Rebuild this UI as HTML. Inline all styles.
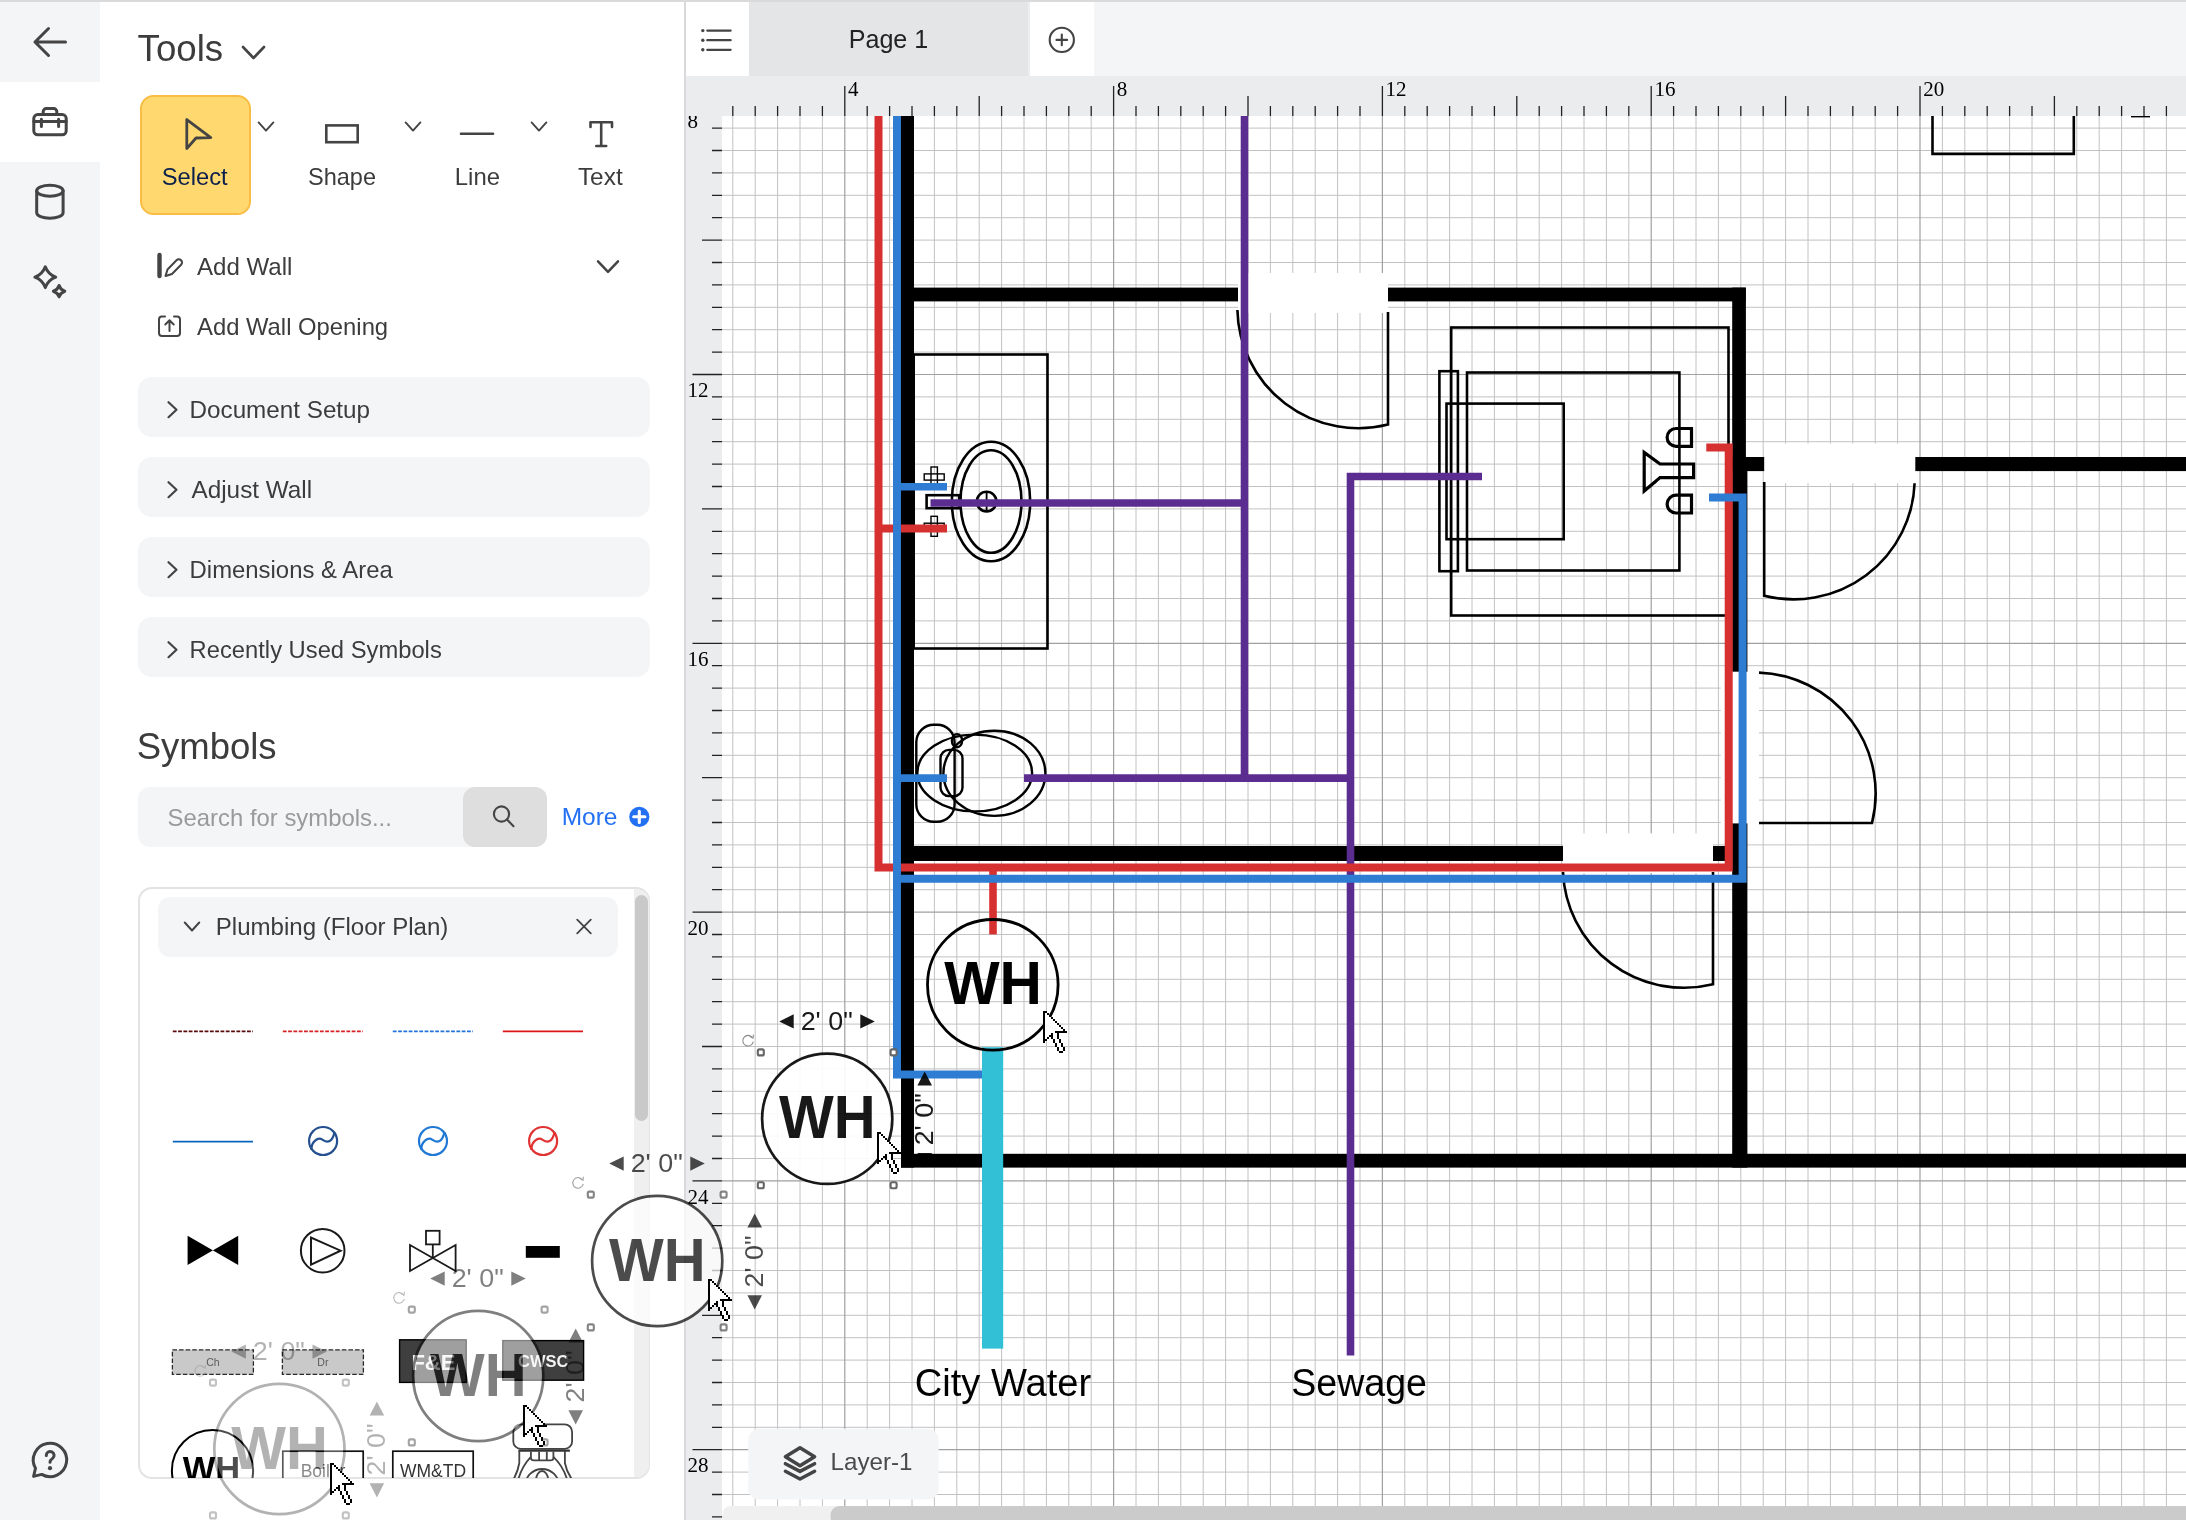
<!DOCTYPE html>
<html><head><meta charset="utf-8"><title>Floor Plan</title>
<style>
*{box-sizing:border-box;margin:0;padding:0}
html,body{width:2186px;height:1520px;overflow:hidden;background:#fff}
body{position:relative;font-family:"Liberation Sans",sans-serif;color:#3c3c3c}
.abs{position:absolute}
.t{position:absolute;white-space:nowrap;line-height:1}
.acc{position:absolute;left:138px;width:512px;height:60px;background:#f4f5f7;border-radius:14px}
svg{position:absolute;left:0;top:0;overflow:visible;will-change:transform}
</style></head>
<body>
<div class="abs" style="left:0;top:0;width:100px;height:1520px;background:#f4f5f7"></div>
<div class="abs" style="left:0;top:82px;width:100px;height:80px;background:#fff"></div>
<div class="abs" style="left:684px;top:0;width:1.8px;height:1520px;background:#d9d9db"></div>
<div class="acc" style="top:377px"></div>
<div class="acc" style="top:457px"></div>
<div class="acc" style="top:537px"></div>
<div class="acc" style="top:617px"></div>
<div class="abs" style="left:140px;top:95px;width:111px;height:120px;background:#ffd970;border:2px solid #f9bd45;border-radius:13.5px"></div>
<div class="abs" style="left:138px;top:787px;width:409px;height:60px;background:#f4f5f7;border-radius:12px"></div>
<div class="abs" style="left:463px;top:787px;width:84px;height:60px;background:#dedede;border-radius:12px"></div>
<div class="abs" style="left:138px;top:887px;width:512px;height:592px;background:#fff;border:2px solid #e3e3e3;border-radius:14px"></div>
<div class="abs" style="left:634px;top:889px;width:15px;height:588px;background:#efefef;border-radius:0 12px 12px 0"></div>
<div class="abs" style="left:635px;top:895px;width:13px;height:226px;background:#c9c9c9;border-radius:7px"></div>
<div class="abs" style="left:158px;top:897px;width:460px;height:60px;background:#f4f5f7;border-radius:12px"></div>
<svg width="2186" height="1520" viewBox="0 0 2186 1520">
<path d="M65.5,42 H35 M48.5,28.5 L35,42 L48.5,55.5" fill="none" stroke="#444" stroke-width="3" stroke-linecap="round" stroke-linejoin="round"/>
<rect x="33.8" y="114.6" width="32.4" height="20.2" rx="4" fill="none" stroke="#444" stroke-width="3" stroke-linecap="round" stroke-linejoin="round"/>
<path d="M43.2,114.6 v-3 a3,3 0 0 1 3,-3 h7.6 a3,3 0 0 1 3,3 v3" fill="none" stroke="#444" stroke-width="3" stroke-linecap="round" stroke-linejoin="round"/>
<path d="M33.8,121.5 H66.2 M41.4,119.3 v7.3 M58.6,119.3 v7.3" fill="none" stroke="#444" stroke-width="3" stroke-linecap="round" stroke-linejoin="round"/>
<ellipse cx="49.9" cy="190.7" rx="13.2" ry="5.5" fill="none" stroke="#444" stroke-width="3" stroke-linecap="round" stroke-linejoin="round"/>
<path d="M36.7,190.7 V212.8 a13.2,5.5 0 0 0 26.4,0 V190.7" fill="none" stroke="#444" stroke-width="3" stroke-linecap="round" stroke-linejoin="round"/>
<path d="M45.3,266.8 Q48.108,274.392 55.699,277.2 Q48.108,280.008 45.3,287.599 Q42.492,280.008 34.9,277.2 Q42.492,274.392 45.3,266.8 Z" fill="none" stroke="#444" stroke-width="3" stroke-linecap="round" stroke-linejoin="round"/>
<path d="M59.1,285.5 Q60.468,289.832 64.8,291.2 Q60.468,292.568 59.1,296.9 Q57.732,292.568 53.4,291.2 Q57.732,289.832 59.1,285.5 Z" fill="none" stroke="#444" stroke-width="3" stroke-linecap="round" stroke-linejoin="round"/>
<path d="M35.5,1468.25 A16.7,16.7 0 1 1 41.65,1474.4 L33.6,1476.4 Z" fill="none" stroke="#444" stroke-width="3" stroke-linecap="round" stroke-linejoin="round"/>
<path d="M46.3,1455.6 A3.9,3.9 0 1 1 52.6,1458.4 C50.8,1459.7 50,1460.6 50,1462.2" fill="none" stroke="#444" stroke-width="3" stroke-linecap="round" stroke-linejoin="round"/>
<circle cx="50" cy="1468.2" r="2.1" fill="#444"/>
<text transform="translate(137.57,61.4) scale(1.018,1)" font-family="Liberation Sans" font-size="36" font-weight="normal" fill="#3c3c3c" >Tools</text>
<path d="M243.0,47.0 L253.5,58.0 L264.0,47.0" fill="none" stroke="#444" stroke-width="2.6" stroke-linecap="round" stroke-linejoin="round"/>
<path d="M186.8,119.6 L186.8,148.6 L196,138 L210.8,137.6 Z" fill="none" stroke="#444" stroke-width="2.8" stroke-linejoin="round"/>
<text transform="translate(161.73,184.5) scale(1.032,1)" font-family="Liberation Sans" font-size="23" font-weight="normal" fill="#0b1f4b" >Select</text>
<path d="M258.6,122.45 L266,130.55 L273.4,122.45" fill="none" stroke="#444" stroke-width="1.9" stroke-linecap="round" stroke-linejoin="round"/>
<rect x="326.3" y="125.4" width="31.4" height="16.8" fill="none" stroke="#444" stroke-width="2.6"/>
<text transform="translate(307.94,184.6) scale(1.024,1)" font-family="Liberation Sans" font-size="23" font-weight="normal" fill="#3c3c3c" >Shape</text>
<path d="M405.6,122.45 L413,130.55 L420.4,122.45" fill="none" stroke="#444" stroke-width="1.9" stroke-linecap="round" stroke-linejoin="round"/>
<path d="M461,133.8 H493" stroke="#444" stroke-width="2.6" stroke-linecap="round"/>
<text transform="translate(454.79,184.6) scale(1.039,1)" font-family="Liberation Sans" font-size="23" font-weight="normal" fill="#3c3c3c" >Line</text>
<path d="M531.6,122.45 L539,130.55 L546.4,122.45" fill="none" stroke="#444" stroke-width="1.9" stroke-linecap="round" stroke-linejoin="round"/>
<path d="M590.5,127 V122.2 H612 V127 M601.2,122.2 V146 M596.3,146 H606.2" fill="none" stroke="#444" stroke-width="2.6" stroke-linecap="round" stroke-linejoin="round"/>
<text transform="translate(577.91,184.6) scale(1.062,1)" font-family="Liberation Sans" font-size="23" font-weight="normal" fill="#3c3c3c" >Text</text>
<path d="M159.5,255 V276" stroke="#444" stroke-width="4.4" stroke-linecap="round"/>
<path d="M165.5,276 L167.5,269.5 L176.5,260.3 a3.2,3.2 0 0 1 4.6,4.5 L172,274 Z" fill="none" stroke="#444" stroke-width="2" stroke-linejoin="round"/>
<text transform="translate(197.00,274.6) scale(1.004,1)" font-family="Liberation Sans" font-size="24" font-weight="normal" fill="#3c3c3c" >Add Wall</text>
<path d="M598.0,261.45 L608,271.95 L618.0,261.45" fill="none" stroke="#444" stroke-width="2.5" stroke-linecap="round" stroke-linejoin="round"/>
<path d="M165,316.5 H162 a3,3 0 0 0 -3,3 V333 a3,3 0 0 0 3,3 H177 a3,3 0 0 0 3,-3 V319.5 a3,3 0 0 0 -3,-3 H174" fill="none" stroke="#444" stroke-width="2" stroke-linecap="round"/>
<path d="M169.5,331 V320.5 M165.3,324.5 L169.5,320.3 L173.7,324.5" fill="none" stroke="#444" stroke-width="2" stroke-linecap="round" stroke-linejoin="round"/>
<text transform="translate(197.00,334.6) scale(0.993,1)" font-family="Liberation Sans" font-size="24" font-weight="normal" fill="#3c3c3c" >Add Wall Opening</text>
<path d="M168.5,402.2 L176.5,409.7 L168.5,417.2" fill="none" stroke="#444" stroke-width="2.2" stroke-linecap="round" stroke-linejoin="round"/>
<text transform="translate(189.56,417.6) scale(1.010,1)" font-family="Liberation Sans" font-size="24" font-weight="normal" fill="#3c3c3c" >Document Setup</text>
<path d="M168.5,482.2 L176.5,489.7 L168.5,497.2" fill="none" stroke="#444" stroke-width="2.2" stroke-linecap="round" stroke-linejoin="round"/>
<text transform="translate(191.50,497.6) scale(1.013,1)" font-family="Liberation Sans" font-size="24" font-weight="normal" fill="#3c3c3c" >Adjust Wall</text>
<path d="M168.5,562.2 L176.5,569.7 L168.5,577.2" fill="none" stroke="#444" stroke-width="2.2" stroke-linecap="round" stroke-linejoin="round"/>
<text transform="translate(189.59,577.6) scale(0.996,1)" font-family="Liberation Sans" font-size="24" font-weight="normal" fill="#3c3c3c" >Dimensions &amp; Area</text>
<path d="M168.5,642.2 L176.5,649.7 L168.5,657.2" fill="none" stroke="#444" stroke-width="2.2" stroke-linecap="round" stroke-linejoin="round"/>
<text transform="translate(189.60,657.6) scale(0.990,1)" font-family="Liberation Sans" font-size="24" font-weight="normal" fill="#3c3c3c" >Recently Used Symbols</text>
<text transform="translate(136.66,759.2) scale(1.014,1)" font-family="Liberation Sans" font-size="36" font-weight="normal" fill="#3c3c3c" >Symbols</text>
<text transform="translate(167.62,826.4) scale(0.995,1)" font-family="Liberation Sans" font-size="24" font-weight="normal" fill="#9a9a9a" >Search for symbols...</text>
<circle cx="501.5" cy="814" r="7.6" fill="none" stroke="#444" stroke-width="2.1"/>
<path d="M507,819.6 L513.5,826.2" stroke="#444" stroke-width="2.1" stroke-linecap="round"/>
<text transform="translate(561.64,824.9) scale(1.020,1)" font-family="Liberation Sans" font-size="24" font-weight="normal" fill="#2370f2" >More</text>
<circle cx="639.3" cy="816.8" r="10.1" fill="#2370f2"/>
<path d="M633.7,816.8 H644.9 M639.3,811.2 V822.4" stroke="#fff" stroke-width="3.1" stroke-linecap="round"/>
<path d="M184.75,922.5 L192,930.5 L199.25,922.5" fill="none" stroke="#444" stroke-width="2" stroke-linecap="round" stroke-linejoin="round"/>
<text transform="translate(215.77,935.4) scale(1.003,1)" font-family="Liberation Sans" font-size="24" font-weight="normal" fill="#3c3c3c" >Plumbing (Floor Plan)</text>
<path d="M577.2,919.7 L590.8,933.3 M590.8,919.7 L577.2,933.3" stroke="#444" stroke-width="1.8" stroke-linecap="round"/>
</svg>
<div class="abs" style="left:686px;top:0;width:1500px;height:76px;background:#f4f5f7"></div>
<div class="abs" style="left:686px;top:2px;width:62.5px;height:74px;background:#fff"></div>
<div class="abs" style="left:748.5px;top:2px;width:279.5px;height:74px;background:#e4e5e7"></div>
<div class="abs" style="left:1028px;top:2px;width:1.8px;height:74px;background:#ecedef"></div>
<div class="abs" style="left:1029.8px;top:2px;width:64.4px;height:74px;background:#fff"></div>
<div class="abs" style="left:686px;top:76px;width:1500px;height:40px;background:#ebecee"></div>
<div class="abs" style="left:686px;top:76px;width:36px;height:1444px;background:#ebecee"></div>
<div class="abs" style="left:0;top:0;width:2186px;height:2px;background:#dadada"></div>
<svg width="2186" height="1520" viewBox="0 0 2186 1520">
<defs><clipPath id="cv"><rect x="722" y="116" width="1464" height="1404"/></clipPath><clipPath id="lr"><rect x="686" y="116" width="36" height="1404"/></clipPath></defs>
<path d="M707.3,30.6 H730.6" stroke="#444" stroke-width="2.3" stroke-linecap="round" fill="none"/>
<circle cx="702.8" cy="30.6" r="1.7" fill="#444"/>
<path d="M707.3,40.2 H730.6" stroke="#444" stroke-width="2.3" stroke-linecap="round" fill="none"/>
<circle cx="702.8" cy="40.2" r="1.7" fill="#444"/>
<path d="M707.3,49.8 H730.6" stroke="#444" stroke-width="2.3" stroke-linecap="round" fill="none"/>
<circle cx="702.8" cy="49.8" r="1.7" fill="#444"/>
<text transform="translate(848.69,47.9) scale(0.981,1)" font-family="Liberation Sans" font-size="25.6" font-weight="normal" fill="#222" >Page 1</text>
<circle cx="1061.8" cy="39.9" r="12.1" stroke="#444" stroke-linecap="round" fill="none" stroke-width="2.1"/>
<path d="M1056.5,39.9 H1067.1 M1061.8,34.6 V45.2" stroke="#444" stroke-linecap="round" fill="none" stroke-width="2.1"/>
<g clip-path="url(#cv)">
<path d="M732.8,116 V1520 M755.2,116 V1520 M777.6,116 V1520 M800,116 V1520 M822.4,116 V1520 M867.2,116 V1520 M889.6,116 V1520 M912,116 V1520 M934.4,116 V1520 M956.8,116 V1520 M979.2,116 V1520 M1001.6,116 V1520 M1024,116 V1520 M1046.4,116 V1520 M1068.8,116 V1520 M1091.2,116 V1520 M1136,116 V1520 M1158.4,116 V1520 M1180.8,116 V1520 M1203.2,116 V1520 M1225.6,116 V1520 M1248,116 V1520 M1270.4,116 V1520 M1292.8,116 V1520 M1315.2,116 V1520 M1337.6,116 V1520 M1360,116 V1520 M1404.8,116 V1520 M1427.2,116 V1520 M1449.6,116 V1520 M1472,116 V1520 M1494.4,116 V1520 M1516.8,116 V1520 M1539.2,116 V1520 M1561.6,116 V1520 M1584,116 V1520 M1606.4,116 V1520 M1628.8,116 V1520 M1673.6,116 V1520 M1696,116 V1520 M1718.4,116 V1520 M1740.8,116 V1520 M1763.2,116 V1520 M1785.6,116 V1520 M1808,116 V1520 M1830.4,116 V1520 M1852.8,116 V1520 M1875.2,116 V1520 M1897.6,116 V1520 M1942.4,116 V1520 M1964.8,116 V1520 M1987.2,116 V1520 M2009.6,116 V1520 M2032,116 V1520 M2054.4,116 V1520 M2076.8,116 V1520 M2099.2,116 V1520 M2121.6,116 V1520 M2144,116 V1520 M2166.4,116 V1520 M722,128.1 H2186 M722,150.5 H2186 M722,172.9 H2186 M722,195.3 H2186 M722,217.7 H2186 M722,240.1 H2186 M722,262.5 H2186 M722,284.9 H2186 M722,307.3 H2186 M722,329.7 H2186 M722,352.1 H2186 M722,396.9 H2186 M722,419.3 H2186 M722,441.7 H2186 M722,464.1 H2186 M722,486.5 H2186 M722,508.9 H2186 M722,531.3 H2186 M722,553.7 H2186 M722,576.1 H2186 M722,598.5 H2186 M722,620.9 H2186 M722,665.7 H2186 M722,688.1 H2186 M722,710.5 H2186 M722,732.9 H2186 M722,755.3 H2186 M722,777.7 H2186 M722,800.1 H2186 M722,822.5 H2186 M722,844.9 H2186 M722,867.3 H2186 M722,889.7 H2186 M722,934.5 H2186 M722,956.9 H2186 M722,979.3 H2186 M722,1001.7 H2186 M722,1024.1 H2186 M722,1046.5 H2186 M722,1068.9 H2186 M722,1091.3 H2186 M722,1113.7 H2186 M722,1136.1 H2186 M722,1158.5 H2186 M722,1203.3 H2186 M722,1225.7 H2186 M722,1248.1 H2186 M722,1270.5 H2186 M722,1292.9 H2186 M722,1315.3 H2186 M722,1337.7 H2186 M722,1360.1 H2186 M722,1382.5 H2186 M722,1404.9 H2186 M722,1427.3 H2186 M722,1472.1 H2186 M722,1494.5 H2186 M722,1516.9 H2186" stroke="#c2c2c2" stroke-width="1" fill="none"/>
<path d="M844.8,116 V1520 M1113.6,116 V1520 M1382.4,116 V1520 M1651.2,116 V1520 M1920,116 V1520 M722,374.5 H2186 M722,643.3 H2186 M722,912.1 H2186 M722,1180.9 H2186 M722,1449.7 H2186" stroke="#a0a0a0" stroke-width="1.2" fill="none"/>
<rect x="901" y="100" width="13" height="1067.6" fill="#000"/>
<rect x="901" y="287.6" width="844.7" height="13.8" fill="#000"/>
<rect x="1732.2" y="287.6" width="13.7" height="183.4" fill="#000"/>
<rect x="1732.2" y="457" width="15.2" height="710.6" fill="#000"/>
<rect x="1745" y="457" width="441" height="14.1" fill="#000"/>
<rect x="901" y="846" width="831.2" height="15" fill="#000"/>
<rect x="901" y="1153.8" width="1285" height="13.8" fill="#000"/>
<rect x="1238" y="273" width="150" height="40" fill="#fff"/>
<rect x="1764.2" y="443.6" width="151.1" height="39.7" fill="#fff"/>
<rect x="1720.8" y="671.7" width="38.2" height="151.7" fill="#fff"/>
<rect x="1563" y="833.4" width="150" height="39.6" fill="#fff"/>
<path d="M1932.5,100 V153.9 H2073.8 V100" fill="none" stroke="#000" stroke-width="2.6" stroke-linejoin="miter"/>
<path d="M2131,116.6 H2150" stroke="#000" stroke-width="1.6"/>
<path d="M1388,312 V424.5 A121,121 0 0 1 1237.4,310" fill="none" stroke="#000" stroke-width="2.6" stroke-linejoin="miter"/>
<path d="M1764.2,482 V595.7 A121,121 0 0 0 1914.6,483.2" fill="none" stroke="#000" stroke-width="2.6" stroke-linejoin="miter"/>
<path d="M1759,823 H1872 A121,121 0 0 0 1759,672.6" fill="none" stroke="#000" stroke-width="2.6" stroke-linejoin="miter"/>
<path d="M1713,872 V984.2 A121,121 0 0 1 1563,872" fill="none" stroke="#000" stroke-width="2.6" stroke-linejoin="miter"/>
<rect x="913.7" y="354.5" width="133.8" height="294" fill="none" stroke="#000" stroke-width="2.6" stroke-linejoin="miter"/>
<ellipse cx="991" cy="501.5" rx="39.2" ry="59.8" fill="none" stroke="#000" stroke-width="2.6" stroke-linejoin="miter"/>
<ellipse cx="991" cy="501.5" rx="30.5" ry="51.3" fill="none" stroke="#000" stroke-width="2.6" stroke-linejoin="miter"/>
<circle cx="986.6" cy="501.6" r="9.8" fill="none" stroke="#000" stroke-width="2.6" stroke-linejoin="miter"/>
<path d="M986.6,491.5 V511.7" fill="none" stroke="#000" stroke-linejoin="miter" stroke-width="1.8"/>
<rect x="926.6" y="495.2" width="32.6" height="13" fill="none" stroke="#000" stroke-width="2.6" stroke-linejoin="miter"/>
<rect x="924.2" y="473.9" width="20" height="6.2" fill="#fff" stroke="#000" stroke-width="1.4"/>
<rect x="931" y="467" width="6.4" height="20" fill="none" stroke="#000" stroke-width="1.4"/>
<rect x="924.2" y="523.199" width="20" height="6.2" fill="#fff" stroke="#000" stroke-width="1.4"/>
<rect x="931" y="516.3" width="6.4" height="20" fill="none" stroke="#000" stroke-width="1.4"/>
<rect x="916.3" y="724.8" width="38.3" height="97" rx="17.5" fill="none" stroke="#000" stroke-width="2.4"/>
<ellipse cx="974.7" cy="773" rx="57.4" ry="38.4" fill="none" stroke="#000" stroke-width="2.4"/>
<ellipse cx="994.4" cy="773.3" rx="51" ry="42.6" fill="none" stroke="#000" stroke-width="2.4"/>
<rect x="940.5" y="749.9" width="22" height="46.2" rx="8.5" fill="none" stroke="#000" stroke-width="2.4"/>
<ellipse cx="957" cy="740.7" rx="5.1" ry="6.6" fill="none" stroke="#000" stroke-width="2.4"/>
<rect x="1451.2" y="327.5" width="277.3" height="288" fill="none" stroke="#000" stroke-width="2.6" stroke-linejoin="miter"/>
<rect x="1439.4" y="371.2" width="18.5" height="200" fill="none" stroke="#000" stroke-width="2.6" stroke-linejoin="miter"/>
<rect x="1467" y="372.5" width="212.4" height="198" fill="none" stroke="#000" stroke-width="2.6" stroke-linejoin="miter"/>
<rect x="1446.5" y="403.6" width="117.2" height="135.6" fill="none" stroke="#000" stroke-width="2.6" stroke-linejoin="miter"/>
<path d="M1691.5,428.5 H1676 a8.9,8.9 0 0 0 0,17.8 H1691.5 Z" fill="none" stroke="#000" stroke-width="3.2" stroke-linejoin="miter"/>
<path d="M1691.5,495.2 H1676 a8.9,8.9 0 0 0 0,17.8 H1691.5 Z" fill="none" stroke="#000" stroke-width="3.2" stroke-linejoin="miter"/>
<path d="M1644.2,452.5 V491 L1660,477.6 H1693.6 V464 H1660 Z" fill="none" stroke="#000" stroke-width="3.2" stroke-linejoin="miter"/>
<path d="M1244.5,100 V781.9" fill="none" stroke="#5b2d90" stroke-width="7.6" stroke-linejoin="miter"/>
<path d="M930.5,503 H1244.5" fill="none" stroke="#5b2d90" stroke-width="7.6" stroke-linejoin="miter"/>
<path d="M1024,778.1 H1350.5" fill="none" stroke="#5b2d90" stroke-width="7.6" stroke-linejoin="miter"/>
<path d="M1482,476.5 H1350.5 V1355.6" fill="none" stroke="#5b2d90" stroke-width="7.6" stroke-linejoin="miter"/>
<path d="M878.5,100 V867.5 H1728.7 V447.4 H1706.3" fill="none" stroke="#d63031" stroke-width="8" stroke-linejoin="miter"/>
<path d="M878.5,528.4 H947" fill="none" stroke="#d63031" stroke-width="8" stroke-linejoin="miter"/>
<path d="M993,867.5 V934.4" fill="none" stroke="#d63031" stroke-linejoin="miter" stroke-width="7.6"/>
<path d="M897,100 V1074.5 H983" fill="none" stroke="#2e7dd3" stroke-width="8" stroke-linejoin="miter"/>
<path d="M897,486.8 H947" fill="none" stroke="#2e7dd3" stroke-linejoin="miter" stroke-width="7.6"/>
<path d="M897,778.1 H947" fill="none" stroke="#2e7dd3" stroke-linejoin="miter" stroke-width="7.6"/>
<path d="M897,878.8 H1742.6 V497.6 H1709" fill="none" stroke="#2e7dd3" stroke-width="8" stroke-linejoin="miter"/>
<rect x="982" y="1047.2" width="21.2" height="301.4" fill="#31c0d6"/>
<circle cx="992.8" cy="984.8" r="65.3" fill="none" stroke="#000" stroke-width="2.8"/>
<text transform="translate(944.20,1004.4) scale(0.954,1)" font-family="Liberation Sans" font-size="61.5" font-weight="bold" fill="#000" >WH</text>
<text transform="translate(914.79,1395.9) scale(0.993,1)" font-family="Liberation Sans" font-size="38.4" font-weight="normal" fill="#000" >City Water</text>
<text transform="translate(1291.21,1395.9) scale(0.979,1)" font-family="Liberation Sans" font-size="38.4" font-weight="normal" fill="#000" >Sewage</text>
</g>
<text x="848" y="96" font-family="Liberation Serif" font-size="21" font-weight="normal" fill="#000" >4</text>
<text x="1116.8" y="96" font-family="Liberation Serif" font-size="21" font-weight="normal" fill="#000" >8</text>
<text x="1385.6" y="96" font-family="Liberation Serif" font-size="21" font-weight="normal" fill="#000" >12</text>
<text x="1654.4" y="96" font-family="Liberation Serif" font-size="21" font-weight="normal" fill="#000" >16</text>
<text x="1923.2" y="96" font-family="Liberation Serif" font-size="21" font-weight="normal" fill="#000" >20</text>
<g clip-path="url(#lr)">
<text x="687.6" y="128.3" font-family="Liberation Serif" font-size="21" font-weight="normal" fill="#000" >8</text>
<text x="687.6" y="397.1" font-family="Liberation Serif" font-size="21" font-weight="normal" fill="#000" >12</text>
<text x="687.6" y="665.9" font-family="Liberation Serif" font-size="21" font-weight="normal" fill="#000" >16</text>
<text x="687.6" y="934.7" font-family="Liberation Serif" font-size="21" font-weight="normal" fill="#000" >20</text>
<text x="687.6" y="1203.5" font-family="Liberation Serif" font-size="21" font-weight="normal" fill="#000" >24</text>
<text x="687.6" y="1472.3" font-family="Liberation Serif" font-size="21" font-weight="normal" fill="#000" >28</text>
</g>
<path d="M732.8,106 V116 M755.2,106 V116 M777.6,106 V116 M800,106 V116 M822.4,106 V116 M844.8,86 V116 M867.2,106 V116 M889.6,106 V116 M912,106 V116 M934.4,106 V116 M956.8,106 V116 M979.2,96 V116 M1001.6,106 V116 M1024,106 V116 M1046.4,106 V116 M1068.8,106 V116 M1091.2,106 V116 M1113.6,86 V116 M1136,106 V116 M1158.4,106 V116 M1180.8,106 V116 M1203.2,106 V116 M1225.6,106 V116 M1248,96 V116 M1270.4,106 V116 M1292.8,106 V116 M1315.2,106 V116 M1337.6,106 V116 M1360,106 V116 M1382.4,86 V116 M1404.8,106 V116 M1427.2,106 V116 M1449.6,106 V116 M1472,106 V116 M1494.4,106 V116 M1516.8,96 V116 M1539.2,106 V116 M1561.6,106 V116 M1584,106 V116 M1606.4,106 V116 M1628.8,106 V116 M1651.2,86 V116 M1673.6,106 V116 M1696,106 V116 M1718.4,106 V116 M1740.8,106 V116 M1763.2,106 V116 M1785.6,96 V116 M1808,106 V116 M1830.4,106 V116 M1852.8,106 V116 M1875.2,106 V116 M1897.6,106 V116 M1920,86 V116 M1942.4,106 V116 M1964.8,106 V116 M1987.2,106 V116 M2009.6,106 V116 M2032,106 V116 M2054.4,96 V116 M2076.8,106 V116 M2099.2,106 V116 M2121.6,106 V116 M2144,106 V116 M2166.4,106 V116 M712,128.1 H722 M712,150.5 H722 M712,172.9 H722 M712,195.3 H722 M712,217.7 H722 M702,240.1 H722 M712,262.5 H722 M712,284.9 H722 M712,307.3 H722 M712,329.7 H722 M712,352.1 H722 M692.5,374.5 H722 M712,396.9 H722 M712,419.3 H722 M712,441.7 H722 M712,464.1 H722 M712,486.5 H722 M702,508.9 H722 M712,531.3 H722 M712,553.7 H722 M712,576.1 H722 M712,598.5 H722 M712,620.9 H722 M692.5,643.3 H722 M712,665.7 H722 M712,688.1 H722 M712,710.5 H722 M712,732.9 H722 M712,755.3 H722 M702,777.7 H722 M712,800.1 H722 M712,822.5 H722 M712,844.9 H722 M712,867.3 H722 M712,889.7 H722 M692.5,912.1 H722 M712,934.5 H722 M712,956.9 H722 M712,979.3 H722 M712,1001.7 H722 M712,1024.1 H722 M702,1046.5 H722 M712,1068.9 H722 M712,1091.3 H722 M712,1113.7 H722 M712,1136.1 H722 M712,1158.5 H722 M692.5,1180.9 H722 M712,1203.3 H722 M712,1225.7 H722 M712,1248.1 H722 M712,1270.5 H722 M712,1292.9 H722 M702,1315.3 H722 M712,1337.7 H722 M712,1360.1 H722 M712,1382.5 H722 M712,1404.9 H722 M712,1427.3 H722 M692.5,1449.7 H722 M712,1472.1 H722 M712,1494.5 H722 M712,1516.9 H722" stroke="#222" stroke-width="1.3" fill="none"/>
<rect x="722.5" y="1506" width="1480" height="24" rx="8" fill="#f0f0f0"/>
<rect x="830.5" y="1506" width="1400" height="20" rx="9" fill="#cbcbcb"/>
<rect x="748.3" y="1428.8" width="190.3" height="70.6" rx="11" fill="#f4f5f7"/>
<path d="M800,1447.7 L814.6,1456.7 L800,1465.8 L785.4,1456.7 Z" fill="none" stroke="#444" stroke-width="3.5" stroke-linejoin="round" stroke-linecap="round"/>
<path d="M785.4,1463.7 L800,1471.4 L814.6,1463.7 M785.4,1471.3 L800,1479 L814.6,1471.3" fill="none" stroke="#444" stroke-width="3.5" stroke-linejoin="round" stroke-linecap="round"/>
<text transform="translate(830.56,1470.2) scale(1.008,1)" font-family="Liberation Sans" font-size="24" font-weight="normal" fill="#4a4a4a" >Layer-1</text>
</svg>
<svg width="2186" height="1520" viewBox="0 0 2186 1520">
<defs><g id="cur" shape-rendering="crispEdges"><path d="M2,2h2v2h-2zM2,4h4v2h-4zM2,6h6v2h-6zM2,8h8v2h-8zM2,10h10v2h-10zM2,12h12v2h-12zM2,14h14v2h-14zM2,16h16v2h-16zM2,18h18v2h-18zM2,20h10v2h-10zM2,22h6v2h-6zM10,22h4v2h-4zM2,24h4v2h-4zM10,24h4v2h-4zM2,26h2v2h-2zM10,26h4v2h-4zM12,28h4v2h-4zM12,30h4v2h-4zM14,32h4v2h-4zM14,34h4v2h-4zM16,36h4v2h-4zM16,38h4v2h-4z" fill="#fff"/><path d="M0,0h4v2h-4zM0,2h2v2h-2zM4,2h2v2h-2zM0,4h2v2h-2zM6,4h2v2h-2zM0,6h2v2h-2zM8,6h2v2h-2zM0,8h2v2h-2zM10,8h2v2h-2zM0,10h2v2h-2zM12,10h2v2h-2zM0,12h2v2h-2zM14,12h2v2h-2zM0,14h2v2h-2zM16,14h2v2h-2zM0,16h2v2h-2zM18,16h2v2h-2zM0,18h2v2h-2zM20,18h2v2h-2zM0,20h2v2h-2zM12,20h12v2h-12zM0,22h2v2h-2zM8,22h2v2h-2zM14,22h2v2h-2zM0,24h2v2h-2zM6,24h4v2h-4zM14,24h2v2h-2zM0,26h2v2h-2zM4,26h2v2h-2zM8,26h2v2h-2zM14,26h2v2h-2zM0,28h4v2h-4zM10,28h2v2h-2zM16,28h2v2h-2zM0,30h2v2h-2zM10,30h2v2h-2zM16,30h2v2h-2zM12,32h2v2h-2zM18,32h2v2h-2zM12,34h2v2h-2zM18,34h2v2h-2zM14,36h2v2h-2zM20,36h2v2h-2zM14,38h2v2h-2zM20,38h2v2h-2zM16,40h4v2h-4z" fill="#000"/></g><clipPath id="lib"><rect x="140" y="889" width="494" height="589"/></clipPath></defs>
<g clip-path="url(#lib)">
<path d="M172.8,1031.4 H253" stroke="#5a0a0a" stroke-width="1.9" stroke-dasharray="3.8 1.5"/>
<path d="M282.8,1031.4 H363" stroke="#d62222" stroke-width="1.9" stroke-dasharray="3.8 1.5"/>
<path d="M392.8,1031.4 H473" stroke="#2273d6" stroke-width="1.9" stroke-dasharray="3.8 1.5"/>
<path d="M502.8,1031.4 H583" stroke="#dc1616" stroke-width="1.9"/>
<path d="M172.8,1141.6 H253" stroke="#0a66bd" stroke-width="1.9"/>
<circle cx="323.099" cy="1141.0" r="14" fill="none" stroke="#24508f" stroke-width="2.2"/>
<path d="M311.4,1149.9 C311.2,1142.0 317.7,1136.5 322.7,1139.8 S332.2,1142.5 334.599,1132.0" fill="none" stroke="#24508f" stroke-width="2.2"/>
<circle cx="433.0" cy="1141.0" r="14" fill="none" stroke="#2079d4" stroke-width="2.2"/>
<path d="M421.3,1149.9 C421.1,1142.0 427.6,1136.5 432.6,1139.8 S442.1,1142.5 444.5,1132.0" fill="none" stroke="#2079d4" stroke-width="2.2"/>
<circle cx="543.1" cy="1141.0" r="14" fill="none" stroke="#e03434" stroke-width="2.2"/>
<path d="M531.400,1149.9 C531.2,1142.0 537.7,1136.5 542.7,1139.8 S552.2,1142.5 554.6,1132.0" fill="none" stroke="#e03434" stroke-width="2.2"/>
<path d="M187.6,1235.7 V1265 L238.2,1235.7 V1265 Z" fill="#000"/>
<circle cx="322.7" cy="1250.7" r="21.8" fill="none" stroke="#1a1a1a" stroke-width="2"/>
<path d="M311,1237.6 V1264.6 L340.6,1250.7 Z" fill="none" stroke="#1a1a1a" stroke-width="2" stroke-linejoin="miter"/>
<path d="M410,1245 V1271 L455.6,1245 V1271 Z" fill="none" stroke="#1a1a1a" stroke-width="1.8"/>
<path d="M432.8,1258 V1244.5" stroke="#1a1a1a" stroke-width="1.8"/>
<rect x="426" y="1230.8" width="13.6" height="13.6" fill="#fff" stroke="#1a1a1a" stroke-width="1.8"/>
<rect x="525.8" y="1246" width="34" height="11.8" fill="#000"/>
<rect x="172.4" y="1349.8" width="81" height="24.6" fill="#c9c9c9" stroke="#2a2a2a" stroke-width="1.3" stroke-dasharray="4.6 2"/>
<text x="212.9" y="1365.8" font-family="Liberation Sans" font-size="10.5" font-weight="normal" fill="#5a5a5a" text-anchor="middle">Ch</text>
<rect x="282.4" y="1349.8" width="81" height="24.6" fill="#c9c9c9" stroke="#2a2a2a" stroke-width="1.3" stroke-dasharray="4.6 2"/>
<text x="322.9" y="1365.8" font-family="Liberation Sans" font-size="10.5" font-weight="normal" fill="#5a5a5a" text-anchor="middle">Dr</text>
<rect x="399.6" y="1339.8" width="66.6" height="42.6" fill="#3f3f3f" stroke="#000" stroke-width="1.4"/>
<text x="433.4" y="1369.6" font-family="Liberation Sans" font-size="22" font-weight="bold" fill="#f2f2f2" text-anchor="middle">F&amp;E</text>
<rect x="502.8" y="1340.6" width="80.8" height="39.6" fill="#3f3f3f" stroke="#000" stroke-width="1.4"/>
<text x="543.2" y="1367" font-family="Liberation Sans" font-size="16.5" font-weight="bold" fill="#f2f2f2" text-anchor="middle">CWSC</text>
<circle cx="212.5" cy="1470.5" r="40.6" fill="none" stroke="#000" stroke-width="2"/>
<text x="211.5" y="1481" font-family="Liberation Sans" font-size="34.5" font-weight="bold" fill="#000" text-anchor="middle">WH</text>
<rect x="282.8" y="1451.2" width="80.4" height="40" fill="none" stroke="#111" stroke-width="1.7"/>
<text x="323" y="1476.8" font-family="Liberation Sans" font-size="17.5" font-weight="normal" fill="#555" text-anchor="middle">Boiler</text>
<rect x="392.8" y="1451.2" width="80.4" height="40" fill="none" stroke="#111" stroke-width="1.7"/>
<text x="433" y="1476.8" font-family="Liberation Sans" font-size="17.5" font-weight="normal" fill="#333" text-anchor="middle">WM&amp;TD</text>
<rect x="513.3" y="1424.3" width="58.8" height="24.6" rx="7.5" fill="none" stroke="#444" stroke-width="1.8"/>
<path d="M518.4,1450.6 H569.9" stroke="#333" stroke-width="2.3" fill="none"/>
<path d="M519.3,1451 V1463 Q518,1471 513.7,1479 M564.9,1451 V1463 Q566.3,1471 571.7,1479" fill="none" stroke="#444" stroke-width="1.8"/>
<path d="M530.9,1456.8 Q522,1466 518.4,1479 M553.4,1456.8 Q563,1466 567,1479" fill="none" stroke="#444" stroke-width="1.8"/>
<path d="M530.9,1451.5 V1458 Q531,1460.4 534,1460.4 H550.4 Q553.4,1460.4 553.4,1458 V1451.5 M539.1,1451.5 V1460.4 M546.8,1451.5 V1460.4" fill="none" stroke="#444" stroke-width="1.8"/>
<circle cx="542.1" cy="1486" r="17" fill="none" stroke="#444" stroke-width="1.8"/><ellipse cx="542.1" cy="1480" rx="6" ry="9" fill="none" stroke="#444" stroke-width="1.8"/>
</g>
<g opacity="0.3"><circle cx="279.4" cy="1449" r="65.1" fill="#fff" stroke="#000" stroke-width="2.7"/><text transform="translate(231.20,1468.6) scale(0.943,1)" font-family="Liberation Sans" font-size="61.5" font-weight="bold" fill="#000" >WH</text><text transform="translate(252.86,1360) scale(1.026,1)" font-family="Liberation Sans" font-size="26.2" font-weight="normal" fill="#000" >2' 0"</text><path d="M231.399,1351.6 L245.899,1344.4 V1358.8 Z M327.0,1351.6 L312.5,1344.4 V1358.8 Z" fill="#000"/><g transform="translate(385.4,1449.4) rotate(-90)"><text transform="translate(-26.14,0) scale(1.026,1)" font-family="Liberation Sans" font-size="26.2" font-weight="normal" fill="#000" >2' 0"</text></g><path d="M376.9,1401.6 L369.599,1415.6 H384.2 Z M376.9,1497.6 L369.599,1483.2 H384.2 Z" fill="#000"/></g><g opacity="0.4"><rect x="209.999" y="1379.6" width="6" height="6" rx="1.5" fill="#fff" stroke="#666" stroke-width="2.1"/><rect x="209.999" y="1512.4" width="6" height="6" rx="1.5" fill="#fff" stroke="#666" stroke-width="2.1"/><rect x="342.799" y="1379.6" width="6" height="6" rx="1.5" fill="#fff" stroke="#666" stroke-width="2.1"/><rect x="342.799" y="1512.4" width="6" height="6" rx="1.5" fill="#fff" stroke="#666" stroke-width="2.1"/><path d="M204.6,1367.8 A5.3,5.3 0 1 0 205.5,1371.8" fill="none" stroke="#8a8a8a" stroke-width="1.1"/><path d="M201.799,1366.4 L205.2,1368.4 L205.6,1364.8" fill="none" stroke="#8a8a8a" stroke-width="1.1"/></g>
<use href="#cur" x="330" y="1463"/>
<g opacity="0.5"><circle cx="478.2" cy="1376" r="65.1" fill="#fff" stroke="#000" stroke-width="2.7"/><text transform="translate(430.00,1395.6) scale(0.943,1)" font-family="Liberation Sans" font-size="61.5" font-weight="bold" fill="#000" >WH</text><text transform="translate(451.66,1287) scale(1.026,1)" font-family="Liberation Sans" font-size="26.2" font-weight="normal" fill="#000" >2' 0"</text><path d="M430.2,1278.6 L444.7,1271.4 V1285.8 Z M525.8,1278.6 L511.3,1271.4 V1285.8 Z" fill="#000"/><g transform="translate(584.2,1376.4) rotate(-90)"><text transform="translate(-26.14,0) scale(1.026,1)" font-family="Liberation Sans" font-size="26.2" font-weight="normal" fill="#000" >2' 0"</text></g><path d="M575.7,1328.6 L568.4,1342.6 H583.0 Z M575.7,1424.6 L568.4,1410.2 H583.0 Z" fill="#000"/></g><g opacity="0.6"><rect x="408.799" y="1306.6" width="6" height="6" rx="1.5" fill="#fff" stroke="#666" stroke-width="2.1"/><rect x="408.799" y="1439.4" width="6" height="6" rx="1.5" fill="#fff" stroke="#666" stroke-width="2.1"/><rect x="541.6" y="1306.6" width="6" height="6" rx="1.5" fill="#fff" stroke="#666" stroke-width="2.1"/><rect x="541.6" y="1439.4" width="6" height="6" rx="1.5" fill="#fff" stroke="#666" stroke-width="2.1"/><path d="M403.4,1294.8 A5.3,5.3 0 1 0 404.3,1298.8" fill="none" stroke="#8a8a8a" stroke-width="1.1"/><path d="M400.6,1293.4 L404.0,1295.4 L404.4,1291.8" fill="none" stroke="#8a8a8a" stroke-width="1.1"/></g>
<use href="#cur" x="523" y="1405"/>
<g opacity="0.7"><circle cx="657.2" cy="1261" r="65.1" fill="#fff" stroke="#000" stroke-width="2.7"/><text transform="translate(609.00,1280.6) scale(0.943,1)" font-family="Liberation Sans" font-size="61.5" font-weight="bold" fill="#000" >WH</text><text transform="translate(630.66,1172) scale(1.026,1)" font-family="Liberation Sans" font-size="26.2" font-weight="normal" fill="#000" >2' 0"</text><path d="M609.2,1163.6 L623.7,1156.4 V1170.8 Z M704.800,1163.6 L690.300,1156.4 V1170.8 Z" fill="#000"/><g transform="translate(763.2,1261.4) rotate(-90)"><text transform="translate(-26.14,0) scale(1.026,1)" font-family="Liberation Sans" font-size="26.2" font-weight="normal" fill="#000" >2' 0"</text></g><path d="M754.7,1213.6 L747.400,1227.6 H762.0 Z M754.7,1309.6 L747.400,1295.2 H762.0 Z" fill="#000"/></g><g opacity="0.799"><rect x="587.800" y="1191.6" width="6" height="6" rx="1.5" fill="#fff" stroke="#666" stroke-width="2.1"/><rect x="587.800" y="1324.4" width="6" height="6" rx="1.5" fill="#fff" stroke="#666" stroke-width="2.1"/><rect x="720.6" y="1191.6" width="6" height="6" rx="1.5" fill="#fff" stroke="#666" stroke-width="2.1"/><rect x="720.6" y="1324.4" width="6" height="6" rx="1.5" fill="#fff" stroke="#666" stroke-width="2.1"/><path d="M582.4,1179.8 A5.3,5.3 0 1 0 583.3,1183.8" fill="none" stroke="#8a8a8a" stroke-width="1.1"/><path d="M579.6,1178.4 L583.0,1180.4 L583.4,1176.8" fill="none" stroke="#8a8a8a" stroke-width="1.1"/></g>
<use href="#cur" x="708" y="1279"/>
<g opacity="0.9"><circle cx="827.2" cy="1118.8" r="65.1" fill="#fff" stroke="#000" stroke-width="2.7"/><text transform="translate(779.00,1138.399) scale(0.943,1)" font-family="Liberation Sans" font-size="61.5" font-weight="bold" fill="#000" >WH</text><text transform="translate(800.66,1029.8) scale(1.026,1)" font-family="Liberation Sans" font-size="26.2" font-weight="normal" fill="#000" >2' 0"</text><path d="M779.2,1021.4 L793.7,1014.199 V1028.6 Z M874.800,1021.4 L860.300,1014.199 V1028.6 Z" fill="#000"/><g transform="translate(933.2,1119.2) rotate(-90)"><text transform="translate(-26.14,0) scale(1.026,1)" font-family="Liberation Sans" font-size="26.2" font-weight="normal" fill="#000" >2' 0"</text></g><path d="M924.7,1071.399 L917.400,1085.399 H932.0 Z M924.7,1167.399 L917.400,1153.0 H932.0 Z" fill="#000"/></g><g opacity="1"><rect x="757.800" y="1049.399" width="6" height="6" rx="1.5" fill="#fff" stroke="#666" stroke-width="2.1"/><rect x="757.800" y="1182.2" width="6" height="6" rx="1.5" fill="#fff" stroke="#666" stroke-width="2.1"/><rect x="890.6" y="1049.399" width="6" height="6" rx="1.5" fill="#fff" stroke="#666" stroke-width="2.1"/><rect x="890.6" y="1182.2" width="6" height="6" rx="1.5" fill="#fff" stroke="#666" stroke-width="2.1"/><path d="M752.4,1037.6 A5.3,5.3 0 1 0 753.3,1041.6" fill="none" stroke="#8a8a8a" stroke-width="1.1"/><path d="M749.6,1036.2 L753.0,1038.2 L753.4,1034.6" fill="none" stroke="#8a8a8a" stroke-width="1.1"/></g>
<use href="#cur" x="877" y="1132"/>
<use href="#cur" x="1043" y="1011"/>
</svg>
</body></html>
